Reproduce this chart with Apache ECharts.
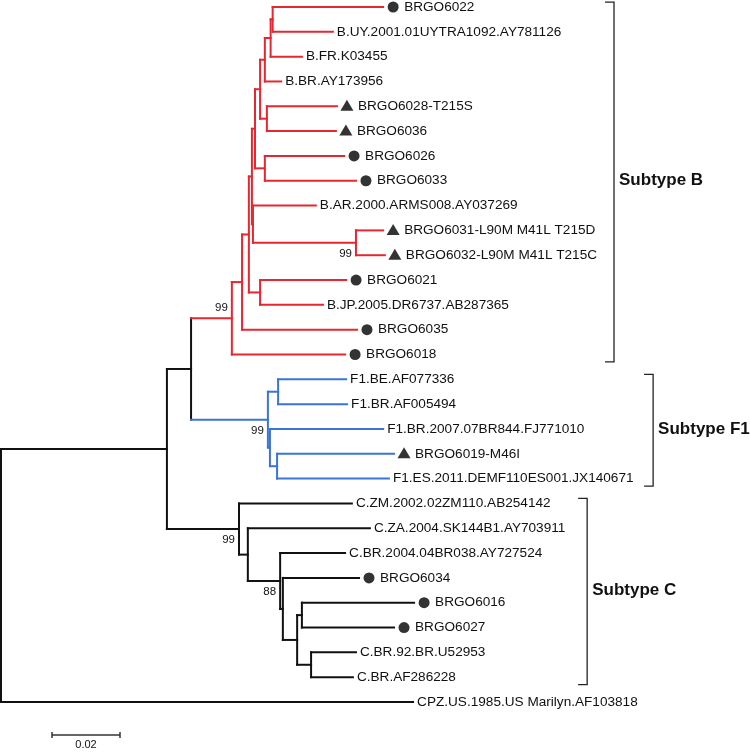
<!DOCTYPE html>
<html><head><meta charset="utf-8">
<script src="https://cdn.jsdelivr.net/npm/echarts@6/dist/echarts.min.js"></script>
<style>html,body{margin:0;padding:0;background:#fff}#c{width:750px;height:752px}</style>
</head><body><div id="c"></div>
<script>
// ---- Data ----
const leafNames = ['BRGO6022','B.UY.2001.01UYTRA1092.AY781126','B.FR.K03455','B.BR.AY173956','BRGO6028-T215S','BRGO6036','BRGO6026','BRGO6033','B.AR.2000.ARMS008.AY037269','BRGO6031-L90M M41L T215D','BRGO6032-L90M M41L T215C','BRGO6021','B.JP.2005.DR6737.AB287365','BRGO6035','BRGO6018','F1.BE.AF077336','F1.BR.AF005494','F1.BR.2007.07BR844.FJ771010','BRGO6019-M46I','F1.ES.2011.DEMF110ES001.JX140671','C.ZM.2002.02ZM110.AB254142','C.ZA.2004.SK144B1.AY703911','C.BR.2004.04BR038.AY727524','BRGO6034','BRGO6016','BRGO6027','C.BR.92.BR.U52953','C.BR.AF286228','CPZ.US.1985.US Marilyn.AF103818'];
const leafMarker = ['dot','','','','tri','tri','dot','dot','','tri','tri','dot','','dot','dot','','','','tri','','','','','dot','dot','dot','','',''];
const leafParent = ['X2','X2','X1','X0','Y','Y','W','W','U','N31','N31','Rj','Rj','B1','B0','Pa','Pa','Q','Qb','Qb','C1','C2','C3','C4','C6','C6','C7','C7','R'];
const leafDepth = [0.1124,0.0976,0.0885,0.0824,0.0988,0.0985,0.1009,0.1044,0.0926,0.1124,0.1129,0.1015,0.0947,0.1047,0.1012,0.1015,0.1018,0.1124,0.1156,0.1141,0.1032,0.1085,0.1012,0.1053,0.1215,0.1156,0.1044,0.1035,0.1212];

const nodeIds    = ['R','I','BF','B0','B1','S','T','V','Z','X0','X1','X2','Y','W','U','N31','Rj','P','Pa','Q','Qb','C1','C2','C3','C4','C5','C6','C7'];
const nodeParent = [null,'R','I','BF','B0','B1','S','T','V','Z','X0','X1','Z','V','T','U','S','BF','P','P','Q','I','C1','C2','C3','C4','C5','C5'];
const nodeDepth  = [0,0.0488,0.0559,0.0679,0.0709,0.0729,0.0738,0.0747,0.0762,0.0776,0.0793,0.0799,0.0782,0.0776,0.0741,0.1044,0.0762,0.0785,0.0815,0.0791,0.0812,0.0700,0.0726,0.0821,0.0829,0.0871,0.0885,0.0912];

const bootNodes  = ['B0','N31','P','C1','C3'];
const bootValues = [99,99,99,99,88];
const bootAbove  = [true,false,false,false,false];

const cladeRoots  = ['B0','P'];
const cladeColors = ['#e8262f','#3a74d8'];

const bracketLabels = ['Subtype B','Subtype F1','Subtype C'];
const bracketFirst  = [0,15,20];
const bracketLast   = [14,19,27];
const bracketX      = [0.1803,0.1918,0.1724];

const scaleLength = 0.02;
const scaleLabel = '0.02';

// ---- Build tree geometry ----
const depth = {}, parent = {}, yPos = {}, children = {};
nodeIds.forEach((id,i)=>{depth[id]=nodeDepth[i]; parent[id]=nodeParent[i]; children[id]=[];});
leafNames.forEach((n,i)=>{const id='L'+i; depth[id]=leafDepth[i]; parent[id]=leafParent[i]; yPos[id]=i;});
Object.keys(parent).forEach(id=>{ if(parent[id]) children[parent[id]].push(id); });
function getY(id){
  if (yPos[id]!==undefined) return yPos[id];
  const ys = children[id].map(getY);
  yPos[id] = (Math.min(...ys)+Math.max(...ys))/2;
  return yPos[id];
}
nodeIds.forEach(getY);
function colorOf(id){
  let c = id;
  while(c){ const k = cladeRoots.indexOf(c); if(k>=0) return k+1; c = parent[c]; }
  return 0;
}
const colors = ['#111111'].concat(cladeColors);
const segs = [];
Object.keys(parent).forEach(id=>{
  const c = colorOf(id);
  if (parent[id]) segs.push([depth[parent[id]], yPos[id], depth[id], yPos[id], c]);
  if (children[id] && children[id].length){
    const ys = children[id].map(k=>yPos[k]);
    segs.push([depth[id], Math.min(...ys), depth[id], Math.max(...ys), c]);
  }
});
const dots = [], tris = [];
leafNames.forEach((n,i)=>{
  if (leafMarker[i]==='dot') dots.push([leafDepth[i], i]);
  if (leafMarker[i]==='tri') tris.push([leafDepth[i], i]);
});
const labels = leafNames.map((n,i)=>[leafDepth[i], i, leafMarker[i] ? 21 : 4]);
const boots = bootNodes.map((id,i)=>[depth[id], yPos[id], bootValues[i], bootAbove[i]?1:0]);
const brackets = bracketLabels.map((l,i)=>[bracketX[i], bracketFirst[i]-0.2, bracketLast[i]+0.3, i]);
const scaleY = 29.33, scaleX0 = 0.015;

const FONT = '"Liberation Sans", Arial, sans-serif';
const chart = echarts.init(document.getElementById('c'), null, {renderer:'canvas'});
chart.setOption({
  animation:false,
  backgroundColor:'#ffffff',
  grid:{left:1, top:7, width:748, height:744.64},
  xAxis:{type:'value', min:0, max:0.22, show:false},
  yAxis:{type:'value', min:0, max:30, inverse:true, show:false},
  series:[
    {type:'custom', data:segs, encode:{x:[0,2], y:[1,3]}, silent:true, z:2,
     renderItem:(p,api)=>{
       const a=api.coord([api.value(0),api.value(1)]), b=api.coord([api.value(2),api.value(3)]);
       return {type:'line', shape:{x1:a[0],y1:a[1],x2:b[0],y2:b[1]},
         style:{stroke:colors[api.value(4)], lineWidth:2, lineCap:'square'}};
     }},
    {type:'scatter', data:dots, symbol:'circle', symbolSize:11, symbolOffset:[10,0],
     itemStyle:{color:'#000'}, silent:true, z:3},
    {type:'scatter', data:tris, symbol:'triangle', symbolSize:[13,11], symbolOffset:[10,-1],
     itemStyle:{color:'#000'}, silent:true, z:3},
    {type:'custom', data:labels, encode:{x:0,y:1}, silent:true, z:4,
     renderItem:(p,api)=>{
       const a=api.coord([api.value(0),api.value(1)]);
       return {type:'text', x:a[0]+api.value(2), y:a[1],
         style:{text:leafNames[p.dataIndex], font:'13.6px '+FONT, fill:'#111', align:'left', verticalAlign:'middle'}};
     }},
    {type:'custom', data:boots, encode:{x:0,y:1}, silent:true, z:4,
     renderItem:(p,api)=>{
       const a=api.coord([api.value(0),api.value(1)]);
       return {type:'text', x:a[0]-4, y:a[1]+(api.value(3)?-10:11),
         style:{text:String(api.value(2)), font:'11.5px '+FONT, fill:'#111', align:'right', verticalAlign:'middle'}};
     }},
    {type:'custom', data:brackets, encode:{x:0,y:1}, silent:true, z:4,
     renderItem:(p,api)=>{
       const t=api.coord([api.value(0),api.value(1)]), b=api.coord([api.value(0),api.value(2)]);
       const mid=api.coord([api.value(0),(bracketFirst[p.dataIndex]+bracketLast[p.dataIndex])/2]);
       const st={stroke:'#222', lineWidth:1.3, fill:null};
       return {type:'group', children:[
         {type:'polyline', shape:{points:[[t[0]-9,t[1]],[t[0],t[1]],[b[0],b[1]],[b[0]-9,b[1]]]}, style:st},
         {type:'text', x:t[0]+5, y:mid[1], style:{text:bracketLabels[p.dataIndex], font:'bold 17px '+FONT, fill:'#111', align:'left', verticalAlign:'middle'}}
       ]};
     }},
    {type:'custom', data:[[scaleX0, scaleY, scaleX0+scaleLength]], encode:{x:[0,2],y:1}, silent:true, z:4,
     renderItem:(p,api)=>{
       const a=api.coord([api.value(0),api.value(1)]), b=api.coord([api.value(2),api.value(1)]);
       const st={stroke:'#333', lineWidth:1.5};
       return {type:'group', children:[
         {type:'line', shape:{x1:a[0],y1:a[1],x2:b[0],y2:b[1]}, style:st},
         {type:'line', shape:{x1:a[0],y1:a[1]-3,x2:a[0],y2:a[1]+3}, style:st},
         {type:'line', shape:{x1:b[0],y1:b[1]-3,x2:b[0],y2:b[1]+3}, style:st},
         {type:'text', x:(a[0]+b[0])/2, y:a[1]+10, style:{text:scaleLabel, font:'11px '+FONT, fill:'#111', align:'center', verticalAlign:'middle'}}
       ]};
     }}
  ]
});
</script></body></html>
